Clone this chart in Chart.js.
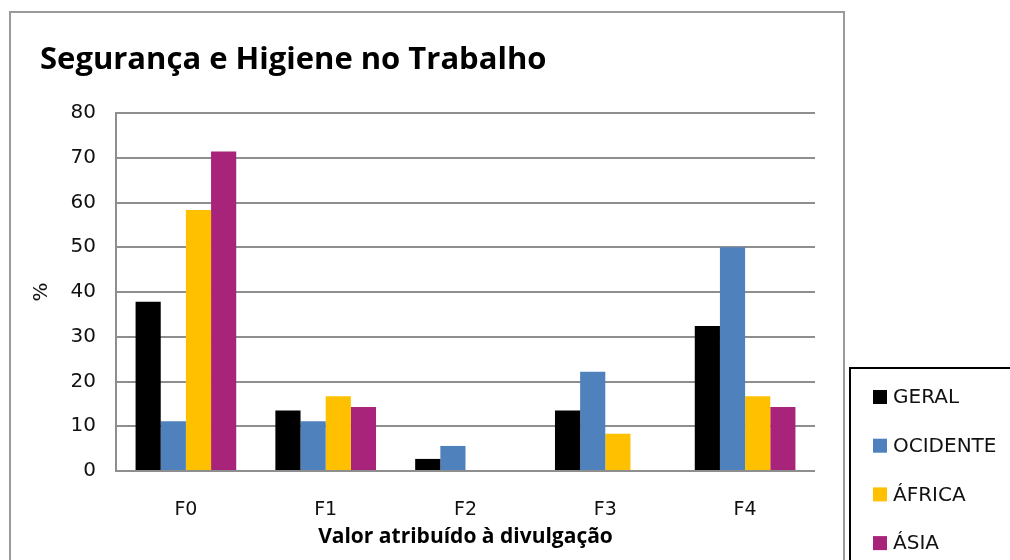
<!DOCTYPE html>
<html>
<head>
<meta charset="utf-8">
<script src="https://cdn.jsdelivr.net/npm/chart.js@4"></script>
<style>
  html, body { margin: 0; padding: 0; background: #fff; }
  #wrap { width: 1010px; height: 560px; position: relative; }
</style>
</head>
<body>
<div id="wrap"><canvas id="chart"></canvas></div>
<script>
// Chart data
const categories = ['F0', 'F1', 'F2', 'F3', 'F4'];
const geral    = [37.8, 13.5, 2.7, 13.5, 32.4];
const ocidente = [11.1, 11.1, 5.6, 22.2, 50.0];
const africa   = [58.3, 16.7, 0, 8.3, 16.7];
const asia     = [71.4, 14.3, 0, 0, 14.3];
const seriesNames = ['GERAL', 'OCIDENTE', 'ÁFRICA', 'ÁSIA'];
const seriesColors = ['#000000', '#4F81BD', '#FFC000', '#A8237A'];
const yTicks = [0, 10, 20, 30, 40, 50, 60, 70, 80];

const chartTitle = 'Segurança e Higiene no Trabalho';
const gridColor = '#8e8e8e';

// frame, title and the boxed legend (Excel style)
const decorations = {
    id: 'decorations',
    afterDraw(chart) {
        const ctx = chart.ctx;
        ctx.save();
        // outer chart border
        ctx.strokeStyle = '#9a9a9a';
        ctx.lineWidth = 2;
        ctx.strokeRect(10, 12, 834, 560);

        // title
        ctx.fillStyle = '#000';
        ctx.font = 'bold 31px "Open Sans"';
        ctx.textBaseline = 'alphabetic';
        ctx.textAlign = 'left';
        ctx.fillText(chartTitle, 40, 69);

        // legend box
        ctx.fillStyle = '#fff';
        ctx.fillRect(850, 368, 170, 200);
        ctx.strokeStyle = '#000';
        ctx.lineWidth = 2;
        ctx.strokeRect(850, 368, 170, 200);

        ctx.font = '20px "DejaVu Sans"';
        ctx.textBaseline = 'middle';
        chart.data.datasets.forEach((ds, i) => {
            const y = 397 + i * 48.7;
            ctx.fillStyle = ds.backgroundColor;
            ctx.fillRect(873, y - 7, 14, 14);
            ctx.fillStyle = '#111';
            ctx.fillText(ds.label, 893, y + 1);
        });
        ctx.restore();
    }
};

const seriesData = [geral, ocidente, africa, asia];

new Chart(document.getElementById('chart'), {
    type: 'bar',
    data: {
        labels: categories,
        datasets: seriesNames.map((name, i) => ({
            label: name,
            data: seriesData[i],
            backgroundColor: seriesColors[i],
            barPercentage: 1.0,
            categoryPercentage: 0.72
        }))
    },
    options: {
        responsive: true,
        maintainAspectRatio: false,
        animation: false,
        layout: { padding: { left: 10, top: 113, right: 195, bottom: 0 } },
        plugins: {
            legend: { display: false },
            title: { display: false },
            tooltip: { enabled: false }
        },
        scales: {
            x: {
                grid: { display: false, drawTicks: false },
                border: { display: false },
                ticks: { padding: 28, color: '#111', font: { family: 'DejaVu Sans', size: 19 } },
                title: {
                    display: true,
                    text: 'Valor atribuído à divulgação',
                    color: '#000',
                    font: { family: 'Open Sans', size: 21, weight: 'bold' },
                    padding: { top: 0, bottom: 10 }
                },
                afterFit(scale) { scale.height = 89; }
            },
            y: {
                min: 0,
                max: 80,
                afterBuildTicks(scale) { scale.ticks = yTicks.map(v => ({ value: v })); },
                grid: { color: gridColor, lineWidth: 2, drawTicks: false },
                border: { color: gridColor, width: 2 },
                ticks: { padding: 20, color: '#111', font: { family: 'DejaVu Sans', size: 20 } },
                title: {
                    display: true,
                    text: '%',
                    color: '#111',
                    font: { family: 'DejaVu Sans', size: 20 },
                    padding: { top: 20, bottom: 0 }
                },
                afterFit(scale) { scale.width = 106; }
            }
        }
    },
    plugins: [decorations]
});
</script>
</body>
</html>
